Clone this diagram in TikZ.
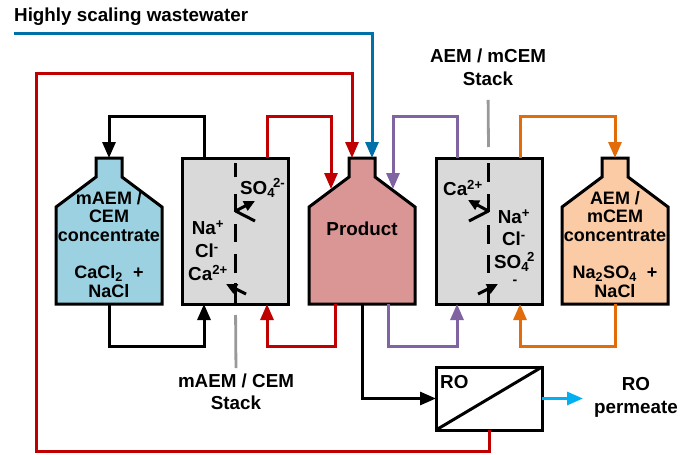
\documentclass[tikz,border=0pt]{standalone}
\usepackage{fontspec}
\setmainfont{Liberation Sans}
\usetikzlibrary{arrows.meta}
\definecolor{tankblue}{HTML}{9BD1E0}
\definecolor{tankorange}{HTML}{FACBA5}
\definecolor{tankred}{HTML}{D99694}
\definecolor{stackgray}{HTML}{D9D9D9}
\definecolor{flowred}{HTML}{C00000}
\definecolor{flowblue}{HTML}{0070A8}
\definecolor{flowpurple}{HTML}{8064A2}
\definecolor{floworange}{HTML}{E36C0A}
\definecolor{flowcyan}{HTML}{00B0F0}
\tikzset{
	flow/.style={line width=3pt,-{Triangle[length=16pt,width=13pt]}},
	tankline/.style={line width=3pt,line join=miter},
	tankbox/.style={minimum width=106pt,minimum height=146pt,inner sep=0pt,outer sep=0pt},
	stackbox/.style={draw,fill=stackgray,line width=3pt,minimum width=106pt,minimum height=146pt,inner sep=0pt,outer sep=0pt},
	label/.style={font=\fontsize{18.8}{18.7}\selectfont\bfseries,align=center,inner sep=0pt},
	tanktext/.style={font=\fontsize{18}{18.7}\selectfont\bfseries,align=center,inner sep=0pt},
	membrane/.style={line width=3pt},
	leader/.style={line width=2.8pt,color=black!40}
}
\newcommand{\tank}[3]{
	\draw[tankline,fill=#3] (#2-53,304) -- (#2-53,207) -- (#2-13,177) -- (#2-13,158) -- (#2+13,158) -- (#2+13,177) -- (#2+53,207) -- (#2+53,304) -- cycle;
	\node[tankbox] (#1) at (#2,231) {};
}
\newcommand{\sosub}{SO\textsubscript{4}}
\begin{document}
\begin{tikzpicture}[x=1pt,y=-1pt]
	\useasboundingbox (0,0) rectangle (689,455);
	\tank{tankA}{109}{tankblue}
	\tank{tankP}{362}{tankred}
	\tank{tankC}{615}{tankorange}
	\node[stackbox] (stackA) at (235.5,231) {};
	\node[stackbox] (stackB) at (489,231) {};
	\node[draw,line width=3pt,minimum width=106pt,minimum height=63pt,inner sep=0pt,outer sep=0pt] (RO) at (489,398.5) {};
	\draw[line width=3pt] (RO.south west) -- (RO.north east);
	\coordinate (prodL) at (331,189);
	\coordinate (prodR) at (393,189);
	\coordinate (inlet) at (14,33);
	\coordinate (permeate) at (583,398.5);
	% membranes
	\foreach \ya/\yb in {163/177,194/212,224/242,254/273,283/304}
		\draw[membrane] (235.5,\ya) -- (235.5,\yb);
	\foreach \ya/\yb in {163/182,194/212,225/244,255/273,285/304}
		\draw[membrane] (488.5,\ya) -- (488.5,\yb);
	\draw[membrane] (255,221) -- (235.5,211);
	\draw[membrane,-{Triangle[length=11pt,width=10pt]}] (235.5,211) -- (255,201);
	\draw[membrane,-{Triangle[length=11pt,width=10pt]}] (246,294) -- (226,284);
	\draw[membrane] (469,221) -- (488.5,211);
	\draw[membrane,-{Triangle[length=11pt,width=10pt]}] (488.5,211) -- (468,200);
	\draw[membrane,-{Triangle[length=11pt,width=10pt]}] (478,294) -- (498,284);
	% flows
	\draw[flow] ([xshift=-31.5pt]stackA.north) -- ++(0,-42) -| (tankA.north);
	\draw[flow,color=flowred] ([xshift=31.5pt]stackA.north) -- ++(0,-42) -| (prodL);
	\draw[flow,color=flowpurple] ([xshift=-32pt]stackB.north) -- ++(0,-42) -| (prodR);
	\draw[flow,color=floworange] ([xshift=31pt]stackB.north) -- ++(0,-42) -| (tankC.north);
	\draw[flow] (tankA.south) -- ++(0,42) -| ([xshift=-31.5pt]stackA.south);
	\draw[flow,color=flowred] ([xshift=-27pt]tankP.south) -- ++(0,42) -| ([xshift=31.5pt]stackA.south);
	\draw[flow,color=flowpurple] ([xshift=26pt]tankP.south) -- ++(0,42) -| ([xshift=-32pt]stackB.south);
	\draw[flow,color=floworange] (tankC.south) -- ++(0,42) -| ([xshift=31pt]stackB.south);
	\draw[flow] (tankP.south) |- (RO.west);
	\draw[flow,color=flowcyan] (RO.east) -- (permeate);
	\draw[flow,color=flowred] (RO.south) -- ++(0,21) -| (36,73) -| ([xshift=-10pt]tankP.north);
	\draw[flow,color=flowblue] (inlet) -| ([xshift=10pt]tankP.north);
	% labels
	\node[label,anchor=west] (inletlabel) at (14,17) {Highly scaling wastewater};
	\node[label] (stackBlabel) at (488,67.5) {AEM / mCEM\\[4pt]Stack};
	\node[label] (stackAlabel) at (236,392) {mAEM / CEM\\[3pt]Stack};
	\draw[leader,shorten <=14pt] (stackBlabel.south) -- ([yshift=11pt,xshift=-.5pt]stackB.north);
	\draw[leader,shorten <=11pt,shorten >=6pt] (stackA.south) -- (stackAlabel.north);
	\node[tanktext] (tankAtext) at (109,244.5) {mAEM /\\CEM\\concentrate\\[18.7pt]CaCl\textsubscript{2} \ +\\NaCl};
	\node[tanktext] (tankCtext) at (615,244.5) {AEM /\\mCEM\\concentrate\\[18.7pt]Na\textsubscript{2}SO\textsubscript{4} \ +\\NaCl};
	\node[label] (prodtext) at (362,229) {Product};
	\node[label,anchor=west] (so4a) at (240,188) {\sosub\kern-2pt\textsuperscript{2-}};
	\node[label] (naa) at (208,228) {Na\textsuperscript{+}};
	\node[label] (cla) at (207,251) {Cl\textsuperscript{-}};
	\node[label] (caa) at (208,273) {Ca\textsuperscript{2+}};
	\node[label,anchor=west] (cab) at (443,188) {Ca\textsuperscript{2+}};
	\node[label] (nab) at (514,217) {Na\textsuperscript{+}};
	\node[label] (clb) at (514,239) {Cl\textsuperscript{-}};
	\node[label,anchor=west] (so4b) at (494,262) {\sosub\kern-2pt\textsuperscript{2}};
	\node[font=\fontsize{14}{14}\selectfont\bfseries,inner sep=0pt] (so4bminus) at (515,282) {-};
	\node[label,anchor=west] (rotext) at (440,382) {RO};
	\node[label] (permtext) at (636,397.5) {RO\\[4pt]permeate};
\end{tikzpicture}
\end{document}
